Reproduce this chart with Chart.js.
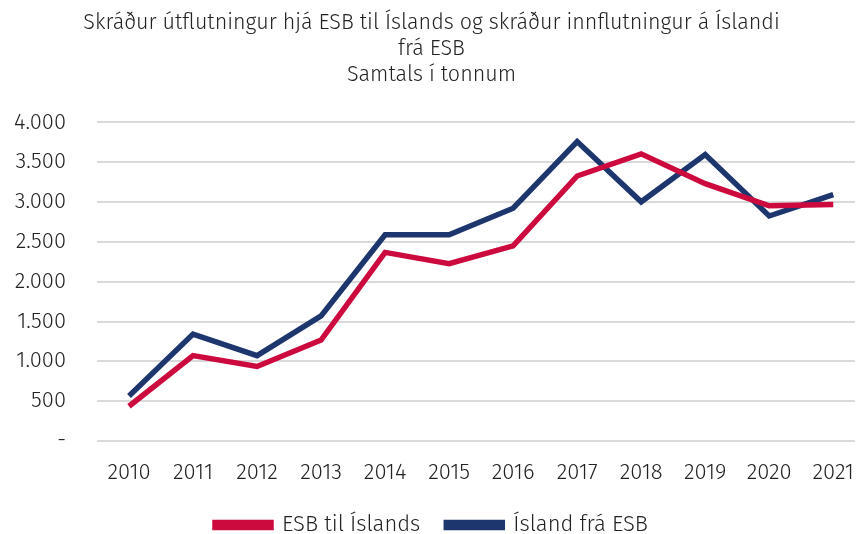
<!DOCTYPE html>
<html>
<head>
<meta charset="utf-8">
<script src="https://cdn.jsdelivr.net/npm/chart.js@4"></script>
<style>
  html, body { margin: 0; padding: 0; background: #fff; }
  #wrap { width: 859px; height: 534px; overflow: hidden; }
</style>
</head>
<body>
<div id="wrap"><canvas id="tradeChart"></canvas></div>
<script>
const YEARS = [2010, 2011, 2012, 2013, 2014, 2015, 2016, 2017, 2018, 2019, 2020, 2021];

// tonnes
const ESB_TIL_ISLANDS = [436, 1072, 935, 1267, 2368, 2227, 2451, 3327, 3605, 3231, 2953, 2970];
const ISLAND_FRA_ESB  = [565, 1342, 1072, 1570, 2590, 2588, 2922, 3760, 3003, 3597, 2825, 3094];

const TITLE_LINES = [
  "Skráður útflutningur hjá ESB til Íslands og skráður innflutningur á Íslandi",
  "frá ESB",
  "Samtals í tonnum"
];

const RED = "#cc0a3e";
const BLUE = "#1d376e";
const FONT = "'Fira Sans', 'Open Sans', 'Noto Sans', sans-serif";

function fmtThousands(v) {
  if (v === 0) return "-";
  return String(v).replace(/\B(?=(\d{3})+(?!\d))/g, ".");
}

const toPoints = arr => YEARS.map((yr, i) => ({ x: yr, y: arr[i] }));

const ctx = document.getElementById("tradeChart").getContext("2d");

new Chart(ctx, {
  type: "line",
  data: {
    datasets: [
      {
        label: "ESB til Íslands",
        data: toPoints(ESB_TIL_ISLANDS),
        borderColor: RED,
        backgroundColor: RED,
        borderWidth: 5.5,
        pointRadius: 0,
        tension: 0
      },
      {
        label: "Ísland frá ESB",
        data: toPoints(ISLAND_FRA_ESB),
        borderColor: BLUE,
        backgroundColor: BLUE,
        borderWidth: 5.5,
        pointRadius: 0,
        tension: 0
      }
    ]
  },
  options: {
    responsive: true,
    maintainAspectRatio: false,
    animation: false,
    layout: { padding: { left: 8, right: 4, top: 10, bottom: -12 } },
    plugins: {
      title: {
        display: true,
        text: TITLE_LINES,
        color: "#222",
        font: { family: FONT, size: 21.5, weight: 300, lineHeight: 1.2 },
        padding: { top: 0, bottom: 35 }
      },
      legend: {
        position: "bottom",
        labels: {
          color: "#222",
          font: { family: FONT, size: 22, weight: 300 },
          boxWidth: 56,
          boxHeight: 5,
          padding: 26
        }
      },
      tooltip: { enabled: false }
    },
    scales: {
      x: {
        type: "linear",
        min: 2009.5,
        max: 2021.34,
        afterBuildTicks: scale => { scale.ticks = YEARS.map(v => ({ value: v })); },
        afterFit: scale => {
          scale.paddingLeft = 0;
          scale.paddingRight = 0;
          scale.height = 47;
        },
        grid: { display: false, drawTicks: false },
        border: { display: false },
        ticks: {
          color: "#222",
          font: { family: FONT, size: 22, weight: 300, lineHeight: 1.2 },
          padding: 19,
          maxRotation: 0,
          autoSkip: false,
          callback: v => String(v)
        }
      },
      y: {
        min: 0,
        max: 4000,
        grid: { color: "#d9d9d9", lineWidth: 2, drawTicks: false },
        border: { display: false },
        afterFit: scale => { scale.width = 89; },
        ticks: {
          stepSize: 500,
          color: "#222",
          font: { family: FONT, size: 22, weight: 300 },
          padding: 31,
          callback: v => fmtThousands(v)
        }
      }
    }
  }
});
</script>
</body>
</html>
